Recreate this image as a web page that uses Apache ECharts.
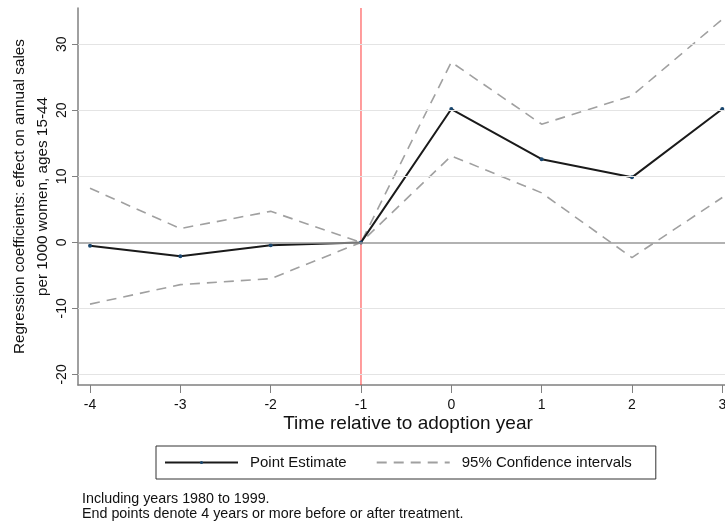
<!DOCTYPE html>
<html>
<head>
<meta charset="utf-8">
<script src="https://cdn.jsdelivr.net/npm/echarts@6/dist/echarts.min.js"></script>
<style>
html,body{margin:0;padding:0;background:#fff;}
#chart{width:725px;height:523px;}
</style>
</head>
<body>
<div id="chart"></div>
<script>
const timeValues = [-4, -3, -2, -1, 0, 1, 2, 3];
const pointEstimate = [-0.5, -2.1, -0.45, 0, 20.2, 12.6, 9.85, 20.2];
const upperCI = [8.2, 2.1, 4.7, 0, 27.3, 17.9, 22.2, 33.8];
const lowerCI = [-9.35, -6.4, -5.5, 0, 13.1, 7.5, -2.3, 6.8];
const yTicks = [-20, -10, 0, 10, 20, 30];
const xTicks = [-4, -3, -2, -1, 0, 1, 2, 3];
const gridValues = [-20, -10, 10, 20, 30];
const zeroValue = 0;
const adoptionLine = -1;
const yRange = [-21.6, 35.5];
const xRange = [-4.133, 3.03];
const footnoteLines = ["Including years 1980 to 1999.", "End points denote 4 years or more before or after treatment."];

const FONT = "Liberation Sans, Arial, sans-serif";
const pairs = arr => timeValues.map((t, i) => [t, arr[i]]);

const chart = echarts.init(document.getElementById('chart'), null, {renderer: 'canvas'});
chart.setOption({
  animation: false,
  backgroundColor: '#ffffff',
  textStyle: {fontFamily: FONT, color: '#111'},
  grid: {left: 78, right: 0, top: 8, bottom: 138, containLabel: false, outerBoundsMode: 'none'},
  xAxis: {
    type: 'value',
    min: xRange[0], max: xRange[1],
    splitLine: {show: false},
    axisLine: {show: true, onZero: false, lineStyle: {color: '#808080', width: 1.5}},
    axisTick: {show: true, customValues: xTicks, length: 8, lineStyle: {color: '#808080', width: 1}},
    axisLabel: {customValues: xTicks, fontSize: 14, color: '#111', margin: 13, fontFamily: FONT},
    name: 'Time relative to adoption year',
    nameLocation: 'middle', nameGap: 29, nameMoveOverlap: false,
    nameTextStyle: {fontSize: 19, color: '#111', fontFamily: FONT, padding: [0, 0, 0, 13]}
  },
  yAxis: {
    type: 'value',
    min: yRange[0], max: yRange[1],
    splitLine: {show: false},
    axisLine: {show: true, onZero: false, lineStyle: {color: '#808080', width: 1.5}},
    axisTick: {show: true, customValues: yTicks, length: 6, lineStyle: {color: '#808080', width: 1}},
    axisLabel: {customValues: yTicks, fontSize: 14, color: '#111', rotate: 90, margin: 9, fontFamily: FONT},
    name: 'Regression coefficients: effect on annual sales\nper 1000 women, ages 15-44',
    nameLocation: 'middle', nameGap: 24, nameRotate: 90, nameMoveOverlap: false,
    nameTextStyle: {fontSize: 15.3, color: '#111', lineHeight: 23, fontFamily: FONT}
  },
  legend: {
    left: 156, top: 446,
    padding: [9, 24, 9, 8],
    itemWidth: 73, itemHeight: 4, itemGap: 29,
    borderColor: '#333', borderWidth: 1, borderRadius: 0,
    textStyle: {fontSize: 15, color: '#111', fontFamily: FONT, padding: [0, 0, 0, 7]},
    data: [
      {name: 'Point Estimate'},
      {name: '95% Confidence intervals', itemStyle: {opacity: 0}}
    ]
  },
  graphic: [{
    type: 'text', left: 82, top: 492,
    style: {text: footnoteLines.join('\n'), font: '14.3px ' + FONT, fill: '#111', lineHeight: 15}
  }],
  series: [
    {
      name: 'gridlines', type: 'line', data: [], silent: true,
      markLine: {
        silent: true, symbol: 'none', label: {show: false},
        lineStyle: {color: '#e4e4e4', width: 1.2, type: 'solid'},
        data: gridValues.map(v => ({yAxis: v}))
      }
    },
    {
      name: 'zeroline', type: 'line', data: [], silent: true,
      markLine: {
        silent: true, symbol: 'none', label: {show: false},
        lineStyle: {color: '#999', width: 1.5, type: 'solid'},
        data: [{yAxis: zeroValue}]
      }
    },
    {
      name: 'adoption', type: 'line', silent: true, z: 2,
      data: yRange.map(v => [adoptionLine, v]),
      symbol: 'none',
      color: '#ff3b3b',
      lineStyle: {color: '#ff3b3b', width: 1, type: 'solid'},
      itemStyle: {color: '#ff3b3b'}
    },
    {
      name: '95% Confidence intervals', type: 'line', data: pairs(upperCI),
      symbol: 'none', z: 3,
      lineStyle: {color: '#a0a0a0', width: 1.6, type: [10, 7]},
      itemStyle: {color: '#a0a0a0'}
    },
    {
      name: '95% Confidence intervals', type: 'line', data: pairs(lowerCI),
      symbol: 'none', z: 3,
      lineStyle: {color: '#a0a0a0', width: 1.6, type: [10, 7]},
      itemStyle: {color: '#a0a0a0'}
    },
    {
      name: 'Point Estimate', type: 'line', data: pairs(pointEstimate),
      symbol: 'circle', symbolSize: 4, z: 4,
      lineStyle: {color: '#1a1a1a', width: 2},
      itemStyle: {color: '#1a476f'}
    }
  ]
});
</script>
</body>
</html>
